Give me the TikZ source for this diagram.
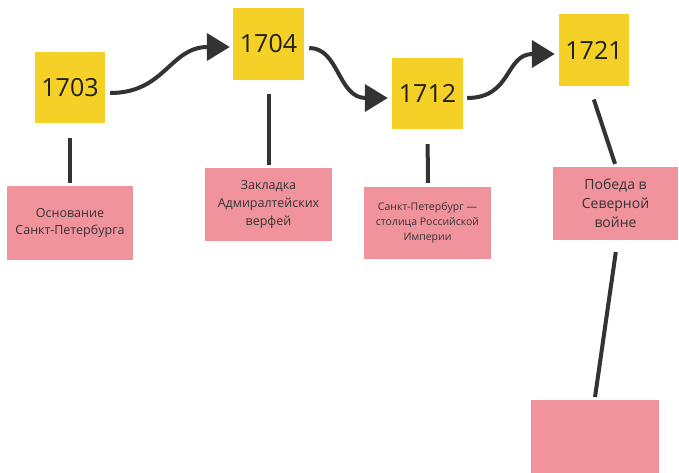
\documentclass[tikz,border=0pt]{standalone}
\usepackage{fontspec}
\setmainfont{Open Sans}
\usetikzlibrary{arrows.meta}
\definecolor{yel}{HTML}{F5D128}
\definecolor{pnk}{HTML}{F1939C}
\definecolor{ink}{HTML}{333333}
\definecolor{txt}{HTML}{1F1F1F}
\tikzset{
  year/.style={fill=yel, minimum width=70pt, minimum height=71pt, inner sep=0pt, font=\fontsize{25}{30}\selectfont, text=txt, drop shadow/.style={}},
  note/.style={fill=pnk, minimum width=126pt, minimum height=73pt, inner sep=2pt, align=center, text=ink, font=\fontsize{12.5}{17.5}\selectfont},
  conn/.style={draw=ink, line width=4pt},
  flow/.style={draw=ink, line width=4pt, -{Triangle[length=23pt,width=27pt]}},
}
\begin{document}
\begin{tikzpicture}[x=1pt,y=-1pt]
\useasboundingbox[fill=white] (0,0) rectangle (679,473);
\node[year] (a) at (70,87.5) {1703};
\node[year, minimum width=71pt, minimum height=72pt] (b) at (268.5,44) {1704};
\node[year, minimum width=71pt] (c) at (427.5,93.5) {1712};
\node[year, minimum height=72pt] (d) at (594,50) {1721};
\node[note, minimum height=74pt] (pa) at (70,223) {Основание\\Санкт-Петербурга};
\node[note, minimum width=127pt, font=\fontsize{12.5}{18}\selectfont] (pb) at (268.5,204.5) {Закладка\\Адмиралтейских\\верфей};
\node[note, minimum width=127pt, minimum height=72pt, font=\fontsize{10.5}{15}\selectfont] (pc) at (427.5,223) {Санкт-Петербург —\\столица Российской\\Империи};
\node[note, minimum width=125pt, font=\fontsize{14}{19}\selectfont] (pd) at (615.5,203.5) {Победа в\\Северной\\войне};
\node[note, minimum width=128pt, minimum height=75pt, anchor=north] (pe) at (595,400) {};
\draw[conn, shorten <=15pt, shorten >=3pt] (a.south) -- (pa.north);
\draw[conn, shorten <=14pt, shorten >=3pt] (b.south) -- (pb.north);
\draw[conn, shorten <=15pt, shorten >=4pt] (c.south) -- ([xshift=0.5pt]pc.north);
\draw[conn, shorten <=14pt, shorten >=3pt] ([xshift=-4.6pt]d.south) -- ([xshift=0.5pt]pd.north);
\draw[conn, shorten <=12pt, shorten >=3pt] ([xshift=2pt]pd.south) -- ([xshift=-0.4pt]pe.north);
\draw[flow] ([shift={(5pt,-5.5pt)}]a.east) .. controls +(55,0) and +(-60,0) .. ([shift={(-3pt,-3pt)}]b.west);
\draw[flow] ([shift={(5pt,-4pt)}]b.east) .. controls +(30,0) and +(-50,0) .. ([shift={(-4pt,-4.5pt)}]c.west);
\draw[flow] ([shift={(4pt,-4.5pt)}]c.east) .. controls +(45,0) and +(-50,0) .. ([shift={(-4pt,-4pt)}]d.west);
\end{tikzpicture}
\end{document}
